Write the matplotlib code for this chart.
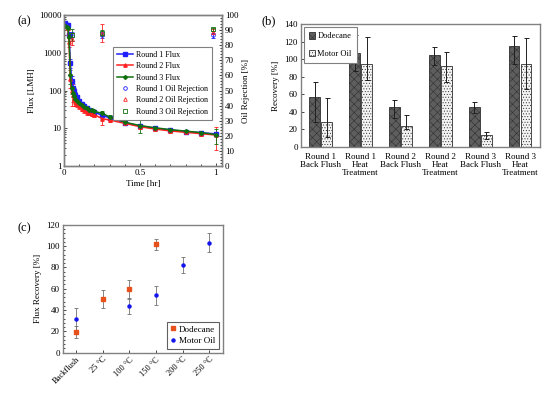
import matplotlib
matplotlib.use("Agg")
import matplotlib.pyplot as plt
import numpy as np
from matplotlib.ticker import MultipleLocator, LogLocator, NullFormatter
from matplotlib.lines import Line2D

plt.rcParams['font.family'] = ['Liberation Serif', 'DejaVu Serif']
plt.rcParams['font.size'] = 6.5
plt.rcParams['xtick.direction'] = 'in'
plt.rcParams['ytick.direction'] = 'in'
plt.rcParams['axes.edgecolor'] = '#808080'
plt.rcParams['axes.linewidth'] = 1.0

# ---------------- Panel (a) data ----------------
time_hr = [0.008, 0.017, 0.025, 0.033, 0.042, 0.05, 0.058, 0.067, 0.075, 0.083, 0.1, 0.117, 0.133,
           0.15, 0.167, 0.183, 0.2, 0.25, 0.3, 0.4, 0.5, 0.6, 0.7, 0.8, 0.9, 1.0]
flux_r1 = [6000, 5600, 5300, 3000, 550, 180, 120, 95, 78, 66, 52, 44, 39, 35, 31, 29, 27, 22, 19, 14,
           11.5, 10, 9, 8.2, 7.6, 7.1]
flux_r2 = [5000, 4800, 4500, 1900, 200, 95, 75, 60, 50, 44, 38, 33, 30, 27, 25, 24, 23, 18, 16.5, 13.5,
           11, 9.5, 8.5, 7.8, 7.2, 6.6]
flux_r3 = [5100, 4800, 4600, 2600, 250, 120, 88, 70, 60, 53, 46, 41, 37, 34, 31, 30, 28, 25, 20, 14.5,
           11.8, 10.3, 9.2, 8.4, 7.7, 6.8]
flux_r1_err = [500, 500, 400, 600, 150, 60, 30, 25, 15, 10, 8, 6, 5, 4, 3, 3, 3, 4, 2, 1.5, 1.0, 0.8,
               0.7, 0.6, 0.6, 1.0]
flux_r2_err = [400, 400, 400, 500, 80, 55, 25, 20, 12, 8, 6, 5, 4, 4, 3, 3, 3, 6, 2, 1.5, 1.5, 1.0,
               0.8, 0.6, 0.8, 4.0]
flux_r3_err = [400, 400, 400, 500, 100, 40, 20, 15, 10, 8, 6, 5, 4, 3, 3, 3, 3, 4, 2, 1.5, 4.5, 1.0,
               0.8, 0.6, 0.8, 3.0]

rej_time = [0.055, 0.25, 0.98]
rej_r1 = [86, 87, 86.5]
rej_r2 = [84, 88, 89]
rej_r3 = [87, 88, 90.5]
rej_r1_err = [3, 2, 1.5]
rej_r2_err = [4, 6, 1.5]
rej_r3_err = [4, 2, 1.0]

# ---------------- Panel (b) data ----------------
b_categories = ["Round 1\nBack Flush", "Round 1\nHeat\nTreatment", "Round 2\nBack Flush",
                "Round 2\nHeat\nTreatment", "Round 3\nBack Flush", "Round 3\nHeat\nTreatment"]
b_dodecane = [56.5, 107, 45.5, 104.5, 45.5, 114.5]
b_dodecane_lo = [28, 86, 33, 93, 38.5, 94.5]
b_dodecane_hi = [74.5, 127.5, 53.5, 113.5, 51, 126.5]
b_motor = [29, 94.5, 24, 92, 13.5, 94]
b_motor_lo = [11, 76, 20, 74, 9.5, 65.5]
b_motor_hi = [55.5, 125.5, 36, 108, 16.5, 124]

# ---------------- Panel (c) data ----------------
c_categories = ["Backflush", "25 \u00b0C", "100 \u00b0C", "150 \u00b0C", "200 \u00b0C", "250 \u00b0C"]
c_dodecane_idx = [0, 1, 2, 3]
c_dodecane = [19.5, 50.5, 59.5, 101.5]
c_dodecane_err = [6, 8.5, 9, 5]
c_motor_idx = [0, 2, 3, 4, 5]
c_motor = [31.3, 43.6, 53.7, 82, 103]
c_motor_err = [10.5, 7.4, 9, 7.5, 9]

fig = plt.figure(figsize=(5.54, 3.93), dpi=100)

# ---------------- (a) ----------------
axa = fig.add_axes([0.1155, 0.5776, 0.2852, 0.3842])
blue, red, green = '#1f1fff', '#ff2020', '#107010'
ekw = dict(elinewidth=0.6, capsize=1.2, capthick=0.6)
axa.errorbar(time_hr, flux_r1, yerr=flux_r1_err, color=blue, marker='s', ms=2.2, lw=1.1, **ekw)
axa.errorbar(time_hr, flux_r2, yerr=flux_r2_err, color=red, marker='^', ms=2.4, lw=1.1, **ekw)
axa.errorbar(time_hr, flux_r3, yerr=flux_r3_err, color=green, marker='D', ms=2.0, lw=1.1, **ekw)
axa.set_yscale('log')
axa.set_ylim(1, 10000)
axa.set_xlim(0, 1.04)
axa.set_xticks([0, 0.5, 1])
axa.set_xticklabels(['0', '0.5', '1'])
axa.xaxis.set_minor_locator(MultipleLocator(0.1))
axa.yaxis.set_minor_locator(LogLocator(base=10, subs=np.arange(2, 10), numticks=20))
axa.yaxis.set_minor_formatter(NullFormatter())
axa.set_yticks([1, 10, 100, 1000, 10000])
axa.set_yticklabels(['1', '10', '100', '1000', '10000'])
axa.set_xlabel('Time [hr]', labelpad=2)
axa.set_ylabel('Flux [LMH]', labelpad=2)
axa.tick_params(which='both', length=2, width=0.5, pad=2)
axa.tick_params(which='minor', length=1.2)

axr = axa.twinx()
axr.errorbar(rej_time, rej_r1, yerr=rej_r1_err, color=blue, marker='o', ms=2.6, mfc='none',
             mew=0.6, ls='none', **ekw)
axr.errorbar(rej_time, rej_r2, yerr=rej_r2_err, color=red, marker='^', ms=2.6, mfc='none',
             mew=0.6, ls='none', **ekw)
axr.errorbar(rej_time, rej_r3, yerr=rej_r3_err, color=green, marker='s', ms=2.6, mfc='none',
             mew=0.6, ls='none', **ekw)
axr.set_ylim(0, 100)
axr.yaxis.set_major_locator(MultipleLocator(10))
axr.yaxis.set_minor_locator(MultipleLocator(2))
axr.set_ylabel('Oil Rejection [%]', labelpad=3)
axr.tick_params(which='both', length=2, width=0.5, pad=2)
axr.tick_params(which='minor', length=1.2)

handles_a = [
    Line2D([], [], color=blue, marker='s', ms=2.2, lw=1.1),
    Line2D([], [], color=red, marker='^', ms=2.4, lw=1.1),
    Line2D([], [], color=green, marker='D', ms=2.0, lw=1.1),
    Line2D([], [], color=blue, marker='o', ms=2.6, mfc='none', mew=0.6, ls='none'),
    Line2D([], [], color=red, marker='^', ms=2.6, mfc='none', mew=0.6, ls='none'),
    Line2D([], [], color=green, marker='s', ms=2.6, mfc='none', mew=0.6, ls='none'),
]
labels_a = ['Round 1 Flux', 'Round 2 Flux', 'Round 3 Flux', 'Round 1 Oil Rejection',
            'Round 2 Oil Rejection', 'Round 3 Oil Rejection']
leg = axr.legend(handles_a, labels_a, loc='upper left', bbox_to_anchor=(0.31, 0.79),
                 fontsize=5.8, frameon=True, fancybox=False, edgecolor='#808080', framealpha=1,
                 handlelength=2.0, labelspacing=0.42, borderpad=0.5, handletextpad=0.3,
                 borderaxespad=0.0)
leg.get_frame().set_linewidth(0.8)

fig.text(0.031, 0.945, '(a)', fontsize=9, ha='left', va='center')

# ---------------- (b) ----------------
axb = fig.add_axes([0.5428, 0.626, 0.4319, 0.313])
xb = np.arange(len(b_categories))
w = 0.27
plt.rcParams['hatch.linewidth'] = 0.4
d_err = [np.array(b_dodecane) - np.array(b_dodecane_lo), np.array(b_dodecane_hi) - np.array(b_dodecane)]
m_err = [np.array(b_motor) - np.array(b_motor_lo), np.array(b_motor_hi) - np.array(b_motor)]
plt.rcParams['hatch.color'] = '#383838'
bkw = dict(elinewidth=0.7, capsize=1.8, capthick=0.7, ecolor='#202020')
axb.bar(xb - 0.15, b_dodecane, w, color='#5e5e5e', edgecolor='#303030', hatch='xxxx',
        linewidth=0.6, label='Dodecane', yerr=d_err, error_kw=bkw)
axb.bar(xb + 0.15, b_motor, w, color='#f4f4f4', edgecolor='#303030', hatch='......',
        linewidth=0.6, label='Motor Oil', yerr=m_err, error_kw=bkw)
axb.set_xlim(-0.5, 5.5)
axb.set_ylim(0, 140)
axb.yaxis.set_major_locator(MultipleLocator(20))
axb.set_xticks(xb)
axb.set_xticklabels(b_categories, fontsize=6.5, linespacing=1.0)
axb.tick_params(axis='x', length=0, pad=4)
axb.tick_params(axis='y', length=2, width=0.5, pad=2)
axb.set_ylabel('Recovery [%]', labelpad=3)
legb = axb.legend(loc='upper left', fontsize=6, fancybox=False, edgecolor='#808080', framealpha=1,
                  handlelength=0.7, handleheight=0.8, handletextpad=0.3, labelspacing=1.1,
                  borderpad=0.6, borderaxespad=0.4)
legb.get_frame().set_linewidth(0.8)
fig.text(0.472, 0.945, '(b)', fontsize=9, ha='left', va='center')

# ---------------- (c) ----------------
axc = fig.add_axes([0.1132, 0.1025, 0.2888, 0.3257])
orange = '#e8501c'
mblue = '#1414ee'
cekw = dict(elinewidth=0.6, capsize=1.5, capthick=0.6, ecolor='#707070')
axc.errorbar(c_dodecane_idx, c_dodecane, yerr=c_dodecane_err, fmt='s', color=orange, ms=3.2, **cekw)
axc.errorbar(c_motor_idx, c_motor, yerr=c_motor_err, fmt='o', color=mblue, ms=2.2, **cekw)
axc.set_xlim(-0.5, 5.5)
axc.set_ylim(0, 120)
axc.yaxis.set_major_locator(MultipleLocator(20))
axc.yaxis.set_minor_locator(MultipleLocator(4))
axc.set_xticks(range(len(c_categories)))
axc.set_xticklabels(c_categories, rotation=45, ha='right', rotation_mode='anchor', fontsize=6)
axc.tick_params(which='both', length=2, width=0.5, pad=2)
axc.tick_params(which='minor', length=1.2)
axc.set_ylabel('Flux Recovery [%]', labelpad=3)
handles_c = [Line2D([], [], color=orange, marker='s', ms=3.2, ls='none'),
             Line2D([], [], color=mblue, marker='o', ms=2.2, ls='none')]
legc = axc.legend(handles_c, ['Dodecane', 'Motor Oil'], loc='lower right', fontsize=6.5,
                  fancybox=False, edgecolor='#606060', framealpha=1,
                  handlelength=0.6, handletextpad=0.4, labelspacing=0.4, borderpad=0.4,
                  borderaxespad=0.4)
legc.get_frame().set_linewidth(0.8)
fig.text(0.031, 0.42, '(c)', fontsize=9, ha='left', va='center')

fig.savefig('out.png', dpi=100)
